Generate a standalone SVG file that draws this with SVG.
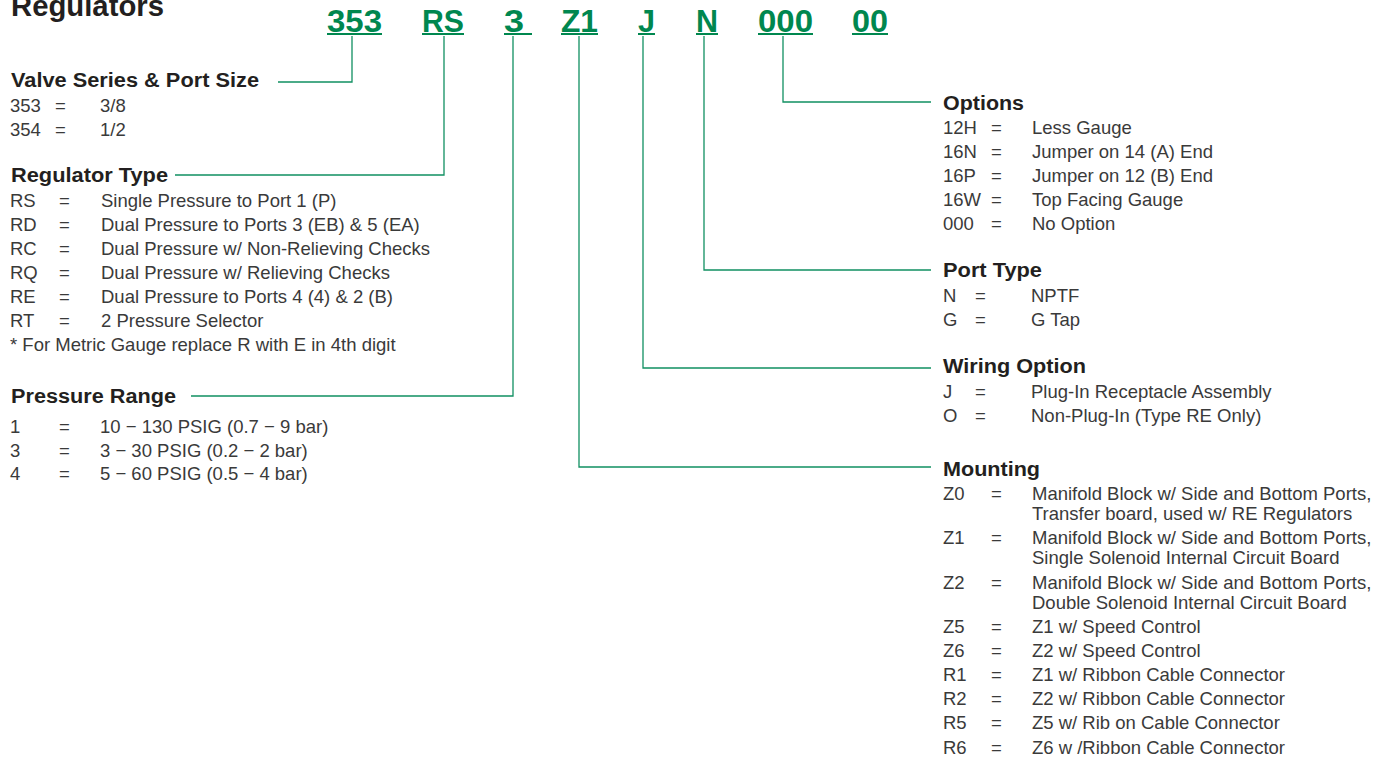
<svg xmlns="http://www.w3.org/2000/svg" width="1395" height="757" viewBox="0 0 1395 757">
<style>
text{font-family:"Liberation Sans",Arial,Helvetica,sans-serif}
.title{font-size:29px;font-weight:bold;fill:#231f20}
.hd{font-size:20px;font-weight:bold;fill:#231f20}
.b{font-size:18.5px;fill:#3a3a3a}
.code{font-size:32px;font-weight:bold;fill:#00874f}
.ul{stroke:#00874f;stroke-width:2;fill:none}
.con{stroke:#119062;stroke-width:1.3;fill:none}
</style>
<rect width="1395" height="757" fill="#ffffff"/>
<text class="title" x="11" y="16" textLength="153" lengthAdjust="spacingAndGlyphs">Regulators</text>

<g id="code">
<text class="code" x="327" y="32" textLength="55" lengthAdjust="spacingAndGlyphs">353</text>
<line class="ul" x1="327" y1="34" x2="382" y2="34"/>
<text class="code" x="422" y="32" textLength="42" lengthAdjust="spacingAndGlyphs">RS</text>
<line class="ul" x1="422" y1="34" x2="464" y2="34"/>
<text class="code" x="504" y="32" textLength="20" lengthAdjust="spacingAndGlyphs">3</text>
<line class="ul" x1="504" y1="34" x2="532" y2="34"/>
<text class="code" x="561" y="32" textLength="37" lengthAdjust="spacingAndGlyphs">Z1</text>
<line class="ul" x1="561" y1="34" x2="598" y2="34"/>
<text class="code" x="638" y="32" textLength="17" lengthAdjust="spacingAndGlyphs">J</text>
<line class="ul" x1="638" y1="34" x2="655" y2="34"/>
<text class="code" x="696" y="32" textLength="22" lengthAdjust="spacingAndGlyphs">N</text>
<line class="ul" x1="696" y1="34" x2="718" y2="34"/>
<text class="code" x="758" y="32" textLength="55" lengthAdjust="spacingAndGlyphs">000</text>
<line class="ul" x1="758" y1="34" x2="813" y2="34"/>
<text class="code" x="852" y="32" textLength="36" lengthAdjust="spacingAndGlyphs">00</text>
<line class="ul" x1="852" y1="34" x2="888" y2="34"/>
</g>

<g id="connectors">
<polyline class="con" points="352,36 352,82 278,82"/>
<polyline class="con" points="444,36 444,175 175,175"/>
<polyline class="con" points="513,36 513,396 191,396"/>
<polyline class="con" points="579,36 579,467 931,467"/>
<polyline class="con" points="643,36 643,368 931,368"/>
<polyline class="con" points="704,36 704,270 931,270"/>
<polyline class="con" points="783,36 783,102 931,102"/>
</g>

<g id="valve-series">
<text class="hd" x="11" y="87" textLength="248" lengthAdjust="spacingAndGlyphs">Valve Series &amp; Port Size</text>
<text class="b" x="10" y="112">353</text><text class="b" x="55" y="112">=</text><text class="b" x="100" y="112">3/8</text>
<text class="b" x="10" y="136">354</text><text class="b" x="55" y="136">=</text><text class="b" x="100" y="136">1/2</text>
</g>

<g id="regulator-type">
<text class="hd" x="11" y="182" textLength="157" lengthAdjust="spacingAndGlyphs">Regulator Type</text>
<text class="b" x="10" y="207">RS</text><text class="b" x="59" y="207">=</text><text class="b" x="101" y="207">Single Pressure to Port 1 (P)</text>
<text class="b" x="10" y="231">RD</text><text class="b" x="59" y="231">=</text><text class="b" x="101" y="231">Dual Pressure to Ports 3 (EB) &amp; 5 (EA)</text>
<text class="b" x="10" y="255">RC</text><text class="b" x="59" y="255">=</text><text class="b" x="101" y="255">Dual Pressure w/ Non-Relieving Checks</text>
<text class="b" x="10" y="279">RQ</text><text class="b" x="59" y="279">=</text><text class="b" x="101" y="279">Dual Pressure w/ Relieving Checks</text>
<text class="b" x="10" y="303">RE</text><text class="b" x="59" y="303">=</text><text class="b" x="101" y="303">Dual Pressure to Ports 4 (4) &amp; 2 (B)</text>
<text class="b" x="10" y="327">RT</text><text class="b" x="59" y="327">=</text><text class="b" x="101" y="327">2 Pressure Selector</text>
<text class="b" x="10" y="351">* For Metric Gauge replace R with E in 4th digit</text>
</g>

<g id="pressure-range">
<text class="hd" x="11" y="403" textLength="165" lengthAdjust="spacingAndGlyphs">Pressure Range</text>
<text class="b" x="10" y="433">1</text><text class="b" x="59" y="433">=</text><text class="b" x="100" y="433">10 − 130 PSIG (0.7 − 9 bar)</text>
<text class="b" x="10" y="457">3</text><text class="b" x="59" y="457">=</text><text class="b" x="100" y="457">3 − 30 PSIG (0.2 − 2 bar)</text>
<text class="b" x="10" y="480">4</text><text class="b" x="59" y="480">=</text><text class="b" x="100" y="480">5 − 60 PSIG (0.5 − 4 bar)</text>
</g>

<g id="options">
<text class="hd" x="943" y="110" textLength="81" lengthAdjust="spacingAndGlyphs">Options</text>
<text class="b" x="943" y="134">12H</text><text class="b" x="991" y="134">=</text><text class="b" x="1032" y="134">Less Gauge</text>
<text class="b" x="943" y="158">16N</text><text class="b" x="991" y="158">=</text><text class="b" x="1032" y="158">Jumper on 14 (A) End</text>
<text class="b" x="943" y="182">16P</text><text class="b" x="991" y="182">=</text><text class="b" x="1032" y="182">Jumper on 12 (B) End</text>
<text class="b" x="943" y="206">16W</text><text class="b" x="991" y="206">=</text><text class="b" x="1032" y="206">Top Facing Gauge</text>
<text class="b" x="943" y="230">000</text><text class="b" x="991" y="230">=</text><text class="b" x="1032" y="230">No Option</text>
</g>

<g id="port-type">
<text class="hd" x="943" y="277" textLength="99" lengthAdjust="spacingAndGlyphs">Port Type</text>
<text class="b" x="943" y="302">N</text><text class="b" x="975" y="302">=</text><text class="b" x="1031" y="302">NPTF</text>
<text class="b" x="943" y="326">G</text><text class="b" x="975" y="326">=</text><text class="b" x="1031" y="326">G Tap</text>
</g>

<g id="wiring-option">
<text class="hd" x="943" y="373" textLength="143" lengthAdjust="spacingAndGlyphs">Wiring Option</text>
<text class="b" x="943" y="398">J</text><text class="b" x="975" y="398">=</text><text class="b" x="1031" y="398">Plug-In Receptacle Assembly</text>
<text class="b" x="943" y="422">O</text><text class="b" x="975" y="422">=</text><text class="b" x="1031" y="422">Non-Plug-In (Type RE Only)</text>
</g>

<g id="mounting">
<text class="hd" x="943" y="476" textLength="97" lengthAdjust="spacingAndGlyphs">Mounting</text>
<text class="b" x="943" y="500">Z0</text><text class="b" x="991" y="500">=</text><text class="b" x="1032" y="500">Manifold Block w/ Side and Bottom Ports,</text>
<text class="b" x="1032" y="520">Transfer board, used w/ RE Regulators</text>
<text class="b" x="943" y="544">Z1</text><text class="b" x="991" y="544">=</text><text class="b" x="1032" y="544">Manifold Block w/ Side and Bottom Ports,</text>
<text class="b" x="1032" y="564">Single Solenoid Internal Circuit Board</text>
<text class="b" x="943" y="589">Z2</text><text class="b" x="991" y="589">=</text><text class="b" x="1032" y="589">Manifold Block w/ Side and Bottom Ports,</text>
<text class="b" x="1032" y="609">Double Solenoid Internal Circuit Board</text>
<text class="b" x="943" y="633">Z5</text><text class="b" x="991" y="633">=</text><text class="b" x="1032" y="633">Z1 w/ Speed Control</text>
<text class="b" x="943" y="657">Z6</text><text class="b" x="991" y="657">=</text><text class="b" x="1032" y="657">Z2 w/ Speed Control</text>
<text class="b" x="943" y="681">R1</text><text class="b" x="991" y="681">=</text><text class="b" x="1032" y="681">Z1 w/ Ribbon Cable Connector</text>
<text class="b" x="943" y="705">R2</text><text class="b" x="991" y="705">=</text><text class="b" x="1032" y="705">Z2 w/ Ribbon Cable Connector</text>
<text class="b" x="943" y="729">R5</text><text class="b" x="991" y="729">=</text><text class="b" x="1032" y="729">Z5 w/ Rib on Cable Connector</text>
<text class="b" x="943" y="754">R6</text><text class="b" x="991" y="754">=</text><text class="b" x="1032" y="754">Z6 w /Ribbon Cable Connector</text>
</g>
</svg>
